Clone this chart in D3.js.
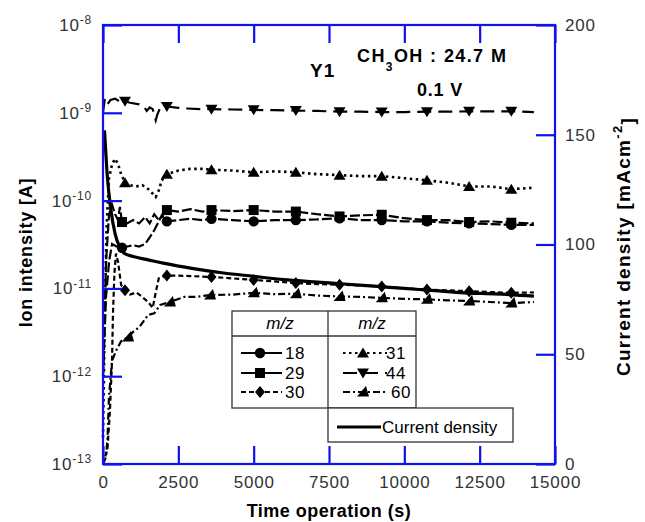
<!DOCTYPE html>
<html>
<head>
<meta charset="utf-8">
<script src="https://cdn.jsdelivr.net/npm/d3@7"></script>
<style>
  body { margin: 0; background: #fff; }
  svg { font-family: "Liberation Sans", Arial, sans-serif; }
</style>
</head>
<body>
<svg id="chart"></svg>
<script>
// ---- data ----
const xTicks = [0, 2500, 5000, 7500, 10000, 12500, 15000];
const yExps = [-13, -12, -11, -10, -9, -8];
const y2Ticks = [0, 50, 100, 150, 200];

// m/z 18 (circle)
const t18 = [0, 100, 200, 300, 450, 630, 800, 1000, 1200, 1400, 1550, 1700, 1830, 1950, 2120, 2500, 2900, 3300, 3600, 4300, 5000, 5700, 6400, 7100, 7850, 8550, 9250, 10000, 10750, 11450, 12150, 12850, 13550, 14300];
const v18 = [1e-12, 8e-12, 2e-11, 3.2e-11, 3e-11, 2.9e-11, 3e-11, 3.1e-11, 3e-11, 3.2e-11, 3.8e-11, 4.6e-11, 5.6e-11, 6.8e-11, 5.8e-11, 6e-11, 6.2e-11, 6e-11, 6.2e-11, 6e-11, 5.8e-11, 6e-11, 6e-11, 6.1e-11, 6.3e-11, 6e-11, 6e-11, 5.8e-11, 5.8e-11, 5.6e-11, 5.5e-11, 5.4e-11, 5.3e-11, 5.3e-11];
const mk18 = [630, 2120, 3600, 5000, 6400, 7850, 9250, 10750, 12150, 13550];

// m/z 29 (square)
const t29 = [0, 100, 200, 300, 400, 500, 560, 630, 800, 1000, 1200, 1400, 1550, 1700, 1850, 2120, 2500, 2900, 3300, 3600, 4300, 5000, 5700, 6400, 7100, 7850, 8550, 9250, 10000, 10750, 11450, 12150, 12850, 13550, 14300];
const v29 = [1e-12, 2e-11, 7e-11, 9e-11, 7e-11, 6e-11, 8.5e-11, 5.7e-11, 5.5e-11, 6e-11, 5.5e-11, 6.5e-11, 5.5e-11, 7e-11, 6e-11, 7.8e-11, 7.5e-11, 8e-11, 7.5e-11, 7.8e-11, 7.6e-11, 7.8e-11, 7.5e-11, 7.5e-11, 7e-11, 6.6e-11, 6.8e-11, 6.9e-11, 6.3e-11, 6e-11, 6e-11, 5.7e-11, 5.8e-11, 5.6e-11, 5.5e-11];
const mk29 = [630, 2120, 3600, 5000, 6400, 7850, 9250, 10750, 12150, 13550];

// m/z 30 (diamond)
const t30 = [0, 150, 230, 300, 330, 380, 430, 500, 600, 730, 900, 1100, 1300, 1500, 1650, 1750, 1850, 2120, 2500, 2900, 3600, 4300, 5000, 5700, 6400, 7100, 7850, 8550, 9250, 10000, 10750, 11450, 12150, 12850, 13550, 14300];
const v30 = [1e-13, 1.5e-13, 4e-13, 1.5e-12, 5e-12, 1.5e-11, 2.5e-11, 2e-11, 1.1e-11, 9.5e-12, 8.5e-12, 9e-12, 8e-12, 7e-12, 6e-12, 9e-12, 1.3e-11, 1.4e-11, 1.4e-11, 1.38e-11, 1.35e-11, 1.3e-11, 1.25e-11, 1.2e-11, 1.15e-11, 1.12e-11, 1.1e-11, 1.08e-11, 1.05e-11, 1e-11, 9.7e-12, 9.5e-12, 9.3e-12, 9.1e-12, 8.9e-12, 9e-12];
const mk30 = [730, 2120, 3600, 5000, 6400, 7850, 9250, 10750, 12150, 13550];

// m/z 31 (triangle up)
const t31 = [0, 60, 120, 200, 300, 400, 500, 600, 730, 900, 1100, 1300, 1460, 1600, 1750, 1850, 1950, 2120, 2500, 2900, 3300, 3600, 4300, 5000, 5700, 6400, 7100, 7850, 8550, 9250, 10000, 10750, 11450, 12150, 12850, 13550, 14300];
const v31 = [2e-13, 5e-12, 5e-11, 1.8e-10, 2.6e-10, 3e-10, 2.6e-10, 2e-10, 1.6e-10, 1.5e-10, 1.45e-10, 1.5e-10, 1.4e-10, 1.25e-10, 1.1e-10, 1.3e-10, 1.7e-10, 2e-10, 2.2e-10, 2.3e-10, 2.3e-10, 2.25e-10, 2.2e-10, 2.1e-10, 2.15e-10, 2.1e-10, 2e-10, 1.95e-10, 1.9e-10, 1.9e-10, 1.8e-10, 1.7e-10, 1.6e-10, 1.45e-10, 1.45e-10, 1.35e-10, 1.4e-10];
const mk31 = [730, 2120, 3600, 5000, 6400, 7850, 9250, 10750, 12150, 13550];

// m/z 44 (triangle down)
const t44 = [0, 60, 150, 250, 400, 550, 730, 900, 1200, 1350, 1450, 1550, 1650, 1750, 1800, 1900, 2120, 2500, 2800, 3200, 3600, 4300, 5000, 5700, 6400, 7100, 7850, 8550, 9250, 10000, 10750, 11450, 12150, 12850, 13550, 14300];
const v44 = [1e-9, 1.45e-9, 1.25e-9, 1.4e-9, 1.45e-9, 1.35e-9, 1.35e-9, 1.3e-9, 1.25e-9, 1.2e-9, 1.05e-9, 1.15e-9, 1.1e-9, 8.2e-10, 9.5e-10, 1.15e-9, 1.18e-9, 1.14e-9, 1.12e-9, 1.1e-9, 1.1e-9, 1.09e-9, 1.08e-9, 1.07e-9, 1.06e-9, 1.05e-9, 1.03e-9, 1.03e-9, 1.02e-9, 1.02e-9, 1.03e-9, 1.03e-9, 1.04e-9, 1.04e-9, 1.04e-9, 1.02e-9];
const mk44 = [730, 2120, 3600, 5000, 6400, 7850, 9250, 10750, 12150, 13550];

// m/z 60 (skewed triangle)
const t60 = [0, 100, 150, 200, 300, 450, 600, 830, 1000, 1200, 1500, 1700, 1900, 2220, 2700, 3100, 3550, 4300, 5000, 5700, 6400, 7100, 7850, 8550, 9250, 10000, 10750, 11450, 12150, 12850, 13550, 14300];
const v60 = [1e-13, 1.2e-13, 2e-13, 6e-13, 1.5e-12, 2e-12, 2.5e-12, 2.8e-12, 3.2e-12, 3.6e-12, 5e-12, 5.2e-12, 6.5e-12, 7e-12, 8e-12, 8e-12, 8.4e-12, 8.5e-12, 8.9e-12, 8.6e-12, 8.7e-12, 8.3e-12, 8.1e-12, 8e-12, 7.8e-12, 7.6e-12, 7.5e-12, 7.3e-12, 7.2e-12, 7e-12, 6.8e-12, 7e-12];
const mk60 = [830, 2220, 3550, 5000, 6400, 7850, 9250, 10750, 12150, 13550];

// current density (right axis, mA cm^-2)
const tCur = [50, 150, 250, 400, 550, 700, 1000, 1500, 2000, 3000, 4000, 5000, 6000, 7000, 8000, 9000, 10000, 11000, 12000, 13000, 14300];
const vCur = [152, 130, 117, 105, 99, 96, 94.5, 93, 91.5, 89, 87, 85.5, 84, 83, 82, 81, 80, 79, 78, 77.5, 76.5];

const width = 645, height = 522;
const margin = { top: 25, right: 90, bottom: 58, left: 103 };
const blue = "#1010f0";

const svg = d3.select("#chart").attr("width", width).attr("height", height);

const x = d3.scaleLinear().domain([0, 15000]).range([margin.left, width - margin.right]);
const y = d3.scaleLog().domain([1e-13, 1e-8]).range([height - margin.bottom, margin.top]);
const y2 = d3.scaleLinear().domain([0, 200]).range([height - margin.bottom, margin.top]);

const x0 = x.range()[0], x1 = x.range()[1];
const yB = y.range()[0], yT = y.range()[1];

// series definitions
const series = [
    { key: "18", t: t18, v: v18, mk: mk18, dash: "10,3", shape: "circle" },
    { key: "29", t: t29, v: v29, mk: mk29, dash: "10,3", shape: "square" },
    { key: "30", t: t30, v: v30, mk: mk30, dash: "5,3", shape: "diamond" },
    { key: "31", t: t31, v: v31, mk: mk31, dash: "2.5,3.5", shape: "up" },
    { key: "44", t: t44, v: v44, mk: mk44, dash: "14,7", shape: "down" },
    { key: "60", t: t60, v: v60, mk: mk60, dash: "7,3,2,3", shape: "skew" }
];

function markerPath(shape) {
    switch (shape) {
        case "circle": return d3.symbol(d3.symbolCircle, 85)();
        case "square": return "M-5,-5H5V5H-5Z";
        case "diamond": return "M0,-6L5,0L0,6L-5,0Z";
        case "up": return "M0,-5.5L6,4.5L-6,4.5Z";
        case "down": return "M0,5.5L6,-4.5L-6,-4.5Z";
        case "skew": return "M-6,4.5L6,4.5L3,-6Z";
    }
}

const plot = svg.append("g").attr("class", "plot");

// Lines
const line = d3.line().x(d => x(d[0])).y(d => y(d[1]));
series.forEach(s => {
    const pts = s.t.map((t, i) => [t, s.v[i]]);
    plot.append("path")
        .datum(pts)
        .attr("d", line)
        .attr("fill", "none")
        .attr("stroke", "#000")
        .attr("stroke-width", s.shape === "up" ? 2.6 : 2.2)
        .attr("stroke-dasharray", s.dash);
    plot.selectAll(null)
        .data(pts.filter(d => s.mk.includes(d[0])))
        .join("path")
        .attr("d", markerPath(s.shape))
        .attr("transform", d => `translate(${x(d[0])},${y(d[1])})`)
        .attr("fill", "#000");
});

// Current density
const curLine = d3.line().x((d, i) => x(tCur[i])).y(d => y2(d)).curve(d3.curveMonotoneX);
plot.append("path")
    .datum(vCur)
    .attr("d", curLine)
    .attr("fill", "none")
    .attr("stroke", "#000")
    .attr("stroke-width", 3.2);

// Axes (ticks point inward)
const tickFont = g => g.selectAll("text")
    .attr("fill", "#333")
    .style("font-size", "17px")
    .style("letter-spacing", "0.8px");

const bottomAxis = svg.append("g")
    .attr("transform", `translate(0,${yB})`)
    .call(d3.axisBottom(x).tickValues(xTicks).tickSize(-18).tickPadding(12).tickFormat(d3.format("d")))
    .call(tickFont);

const topAxis = svg.append("g")
    .attr("transform", `translate(0,${yT})`)
    .call(d3.axisTop(x).tickValues(xTicks).tickSize(-18).tickFormat(""));

const leftAxis = svg.append("g")
    .attr("transform", `translate(${x0},0)`)
    .call(d3.axisLeft(y).tickValues(yExps.map(e => Math.pow(10, e))).tickSize(-19).tickPadding(11).tickFormat(""));

leftAxis.selectAll(".tick text")
    .data(yExps)
    .attr("fill", "#333")
    .style("font-size", "17px")
    .style("letter-spacing", "0.8px")
    .each(function (e) {
        const t = d3.select(this);
        t.append("tspan").text("10");
        t.append("tspan").attr("dy", "-0.55em").style("font-size", "12px").text(e);
    });

const rightAxis = svg.append("g")
    .attr("transform", `translate(${x1},0)`)
    .call(d3.axisRight(y2).tickValues(y2Ticks).tickSize(-19).tickPadding(10))
    .call(tickFont);

[bottomAxis, topAxis, leftAxis, rightAxis].forEach(g => {
    g.select(".domain").remove();
    g.selectAll(".tick line").attr("stroke", blue).attr("stroke-width", 2.2);
});

// frame
svg.append("rect")
    .attr("x", x0).attr("y", yT)
    .attr("width", x1 - x0).attr("height", yB - yT)
    .attr("fill", "none")
    .attr("stroke", blue)
    .attr("stroke-width", 2.2);

// Axis titles
svg.append("text")
    .attr("x", (x0 + x1) / 2).attr("y", 517)
    .attr("text-anchor", "middle")
    .style("font-size", "18px").style("font-weight", "bold").style("letter-spacing", "0.5px")
    .text("Time operation (s)");

svg.append("text")
    .attr("transform", `translate(32,${(yT + yB) / 2 + 8}) rotate(-90)`)
    .attr("text-anchor", "middle")
    .style("font-size", "18px").style("font-weight", "bold").style("letter-spacing", "0.8px")
    .text("Ion intensity [A]");

const rTitle = svg.append("text")
    .attr("transform", `translate(630,${(yT + yB) / 2 + 2}) rotate(-90)`)
    .attr("text-anchor", "middle")
    .style("font-size", "19px").style("font-weight", "bold").style("letter-spacing", "1.3px");
rTitle.append("tspan").text("Current density [mAcm");
rTitle.append("tspan").attr("dy", "-0.6em").style("font-size", "13px").text("-2");
rTitle.append("tspan").attr("dy", "0.6em").text("]");

// Annotations
svg.append("text")
    .attr("x", 310).attr("y", 77)
    .style("font-size", "19px").style("font-weight", "bold").style("letter-spacing", "1px")
    .text("Y1");

const chem = svg.append("text")
    .attr("x", 357).attr("y", 62)
    .style("font-size", "18px").style("font-weight", "bold").style("letter-spacing", "1.4px");
chem.append("tspan").text("CH");
chem.append("tspan").attr("dy", 9).style("font-size", "12px").text("3");
chem.append("tspan").attr("dy", -9).text("OH : 24.7 M");

svg.append("text")
    .attr("x", 417).attr("y", 96)
    .style("font-size", "18px").style("font-weight", "bold").style("letter-spacing", "0.8px")
    .text("0.1 V");

// Legend
const lg = svg.append("g").attr("class", "legend");
const box = { x0: 232, xm: 328, x1: 416, y0: 311, yh: 336, y1: 408 };
const curBox = { x0: 328, x1: 513, y0: 408, y1: 442 };

lg.append("rect").attr("x", box.x0).attr("y", box.y0)
    .attr("width", box.x1 - box.x0).attr("height", box.y1 - box.y0)
    .attr("fill", "#fff").attr("stroke", "#333").attr("stroke-width", 1.3);
lg.append("line").attr("x1", box.xm).attr("x2", box.xm).attr("y1", box.y0).attr("y2", box.y1)
    .attr("stroke", "#333").attr("stroke-width", 1.3);
lg.append("line").attr("x1", box.x0).attr("x2", box.x1).attr("y1", box.yh).attr("y2", box.yh)
    .attr("stroke", "#333").attr("stroke-width", 1.3);
lg.append("rect").attr("x", curBox.x0).attr("y", curBox.y0)
    .attr("width", curBox.x1 - curBox.x0).attr("height", curBox.y1 - curBox.y0)
    .attr("fill", "#fff").attr("stroke", "#333").attr("stroke-width", 1.3);

[(box.x0 + box.xm) / 2, (box.xm + box.x1) / 2].forEach(cx => {
    lg.append("text").attr("x", cx).attr("y", 329)
        .attr("text-anchor", "middle")
        .style("font-size", "17px").style("font-style", "italic")
        .text("m/z");
});

const rowY = [353, 373, 392];
const cols = [
    { lx0: 241, lx1: 282, mx: 260, tx: 285, keys: ["18", "29", "30"] },
    { lx0: 343, lx1: 387, mx: 363, tx: 386, keys: ["31", "44", "60"] }
];
cols.forEach(c => {
    c.keys.forEach((k, i) => {
        const s = series.find(d => d.key === k);
        const yy = rowY[i];
        lg.append("line")
            .attr("x1", c.lx0).attr("x2", c.lx1).attr("y1", yy).attr("y2", yy)
            .attr("stroke", "#000").attr("stroke-width", 2)
            .attr("stroke-dasharray", (k === "18" || k === "29") ? null : s.dash);
        lg.append("path")
            .attr("d", markerPath(s.shape))
            .attr("transform", `translate(${c.mx},${yy})`)
            .attr("fill", "#000");
        lg.append("text")
            .attr("x", c.tx + (k === "60" ? 5 : 0)).attr("y", yy + 6)
            .style("font-size", "17px").style("letter-spacing", "0.5px")
            .text(k);
    });
});

lg.append("line").attr("x1", 337).attr("x2", 381).attr("y1", 427).attr("y2", 427)
    .attr("stroke", "#000").attr("stroke-width", 3);
lg.append("text").attr("x", 382).attr("y", 433)
    .style("font-size", "17px")
    .text("Current density");
</script>
</body>
</html>
